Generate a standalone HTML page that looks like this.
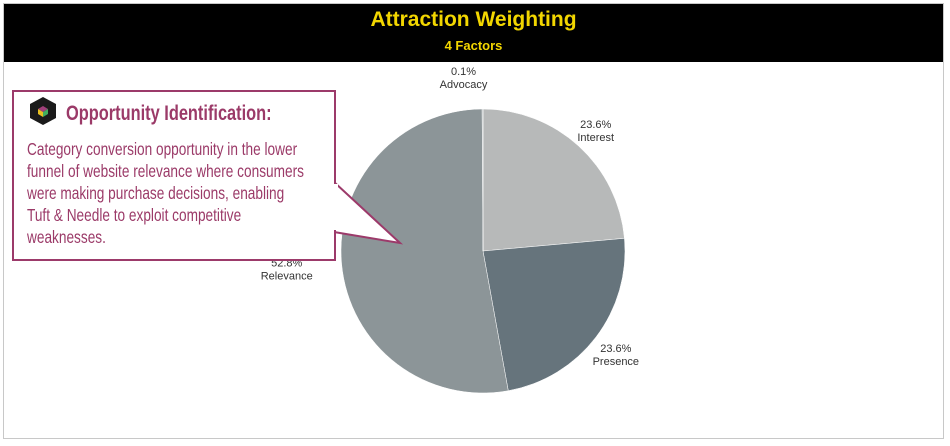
<!DOCTYPE html>
<html><head><meta charset="utf-8"><style>
body{margin:0;width:950px;height:446px;background:#fff;font-family:"Liberation Sans",sans-serif;position:relative;overflow:hidden}
#frame{position:absolute;left:3px;top:3px;width:941px;height:436px;border:1px solid #c8c8c8;box-sizing:border-box}
#hdr{position:absolute;left:4px;top:4px;width:939px;height:58px;background:#000}
.t{position:absolute;width:100%;text-align:center;color:#f2d600;font-weight:bold}
svg{position:absolute;left:0;top:0}
.cn{transform-origin:0 0;transform:scaleX(0.78);white-space:nowrap;position:absolute;color:#9b3a68}
</style></head><body>
<div id="frame"></div>
<div id="hdr">
<div class="t" style="top:4px;font-size:21px">Attraction Weighting</div>
<div class="t" style="top:34px;font-size:13px">4 Factors</div>
</div>
<svg id="chart" width="950" height="446">
<g id="slices"></g><g id="labels"></g>
<polygon points="334,182 400,243 334,232" fill="#fff" stroke="#9c3a6a" stroke-width="2"/>
<rect x="13" y="91" width="322" height="169" fill="#fff" stroke="#9c3a6a" stroke-width="2"/>
<rect x="330" y="184" width="8" height="46" fill="#fff"/>
<g>
<polygon points="43,97 56,104 56,118 43,125 30,118 30,104" fill="#1a1a1a"/>
<polygon points="43,106 48,109 43,112 38,109" fill="#a0407a"/>
<polygon points="38,109 43,112 43,117 38,114" fill="#e8c020"/>
<polygon points="48,109 43,112 43,117 48,114" fill="#40b060"/>
</g>
</svg>
<div class="cn" style="left:66px;top:102px;font-size:21px;font-weight:bold">Opportunity Identification:</div>
<div class="cn" style="left:27px;top:138px;font-size:17.5px;line-height:22px">Category conversion opportunity in the lower<br>funnel of website relevance where consumers<br>were making purchase decisions, enabling<br>Tuft &amp; Needle to exploit competitive<br>weaknesses.</div>
<script>
const categories=["Interest","Presence","Relevance","Advocacy"];
const values=[23.6,23.6,52.8,0.1];
const valueLabels=["23.6%","23.6%","52.8%","0.1%"];
const colors=["#b7b9b9","#66747c","#8c9598","#8c9598"];
const cx=483,cy=251,r=142,ns="http://www.w3.org/2000/svg";
const total=values.reduce((a,b)=>a+b,0);
const sg=document.getElementById('slices'),lg=document.getElementById('labels');
let a0=0;
function pt(a,rr){return [cx+rr*Math.sin(a),cy-rr*Math.cos(a)];}
values.forEach((v,i)=>{
 const a1=a0+v/total*2*Math.PI;
 const p0=pt(a0,r),p1=pt(a1,r);
 const p=document.createElementNS(ns,'path');
 p.setAttribute('d',`M${cx},${cy}L${p0[0]},${p0[1]}A${r},${r} 0 ${a1-a0>Math.PI?1:0} 1 ${p1[0]},${p1[1]}Z`);
 p.setAttribute('fill',colors[i]);p.setAttribute('stroke','#fff');p.setAttribute('stroke-width','0.5');
 
 
 sg.appendChild(p);
 const am=(a0+a1)/2;
 let lp=pt(am,r+(v<1?12:25));
 let dy=v<1?-22:0;
 const t=document.createElementNS(ns,'text');
 t.setAttribute('x',lp[0]+(v<1?-19:(i==2?-30:0)));t.setAttribute('y',lp[1]+dy);
 t.setAttribute('text-anchor','middle');t.setAttribute('font-size','11');t.setAttribute('fill','#333');
 t.setAttribute('font-family','Liberation Sans, sans-serif');
 t.innerHTML=`<tspan x="${lp[0]+(v<1?-19:(i==2?-30:0))}" dy="0">${valueLabels[i]}</tspan><tspan x="${lp[0]+(v<1?-19:(i==2?-30:0))}" dy="13">${categories[i]}</tspan>`;
 
 
 lg.appendChild(t);
 a0=a1;
});
</script>
</body></html>
